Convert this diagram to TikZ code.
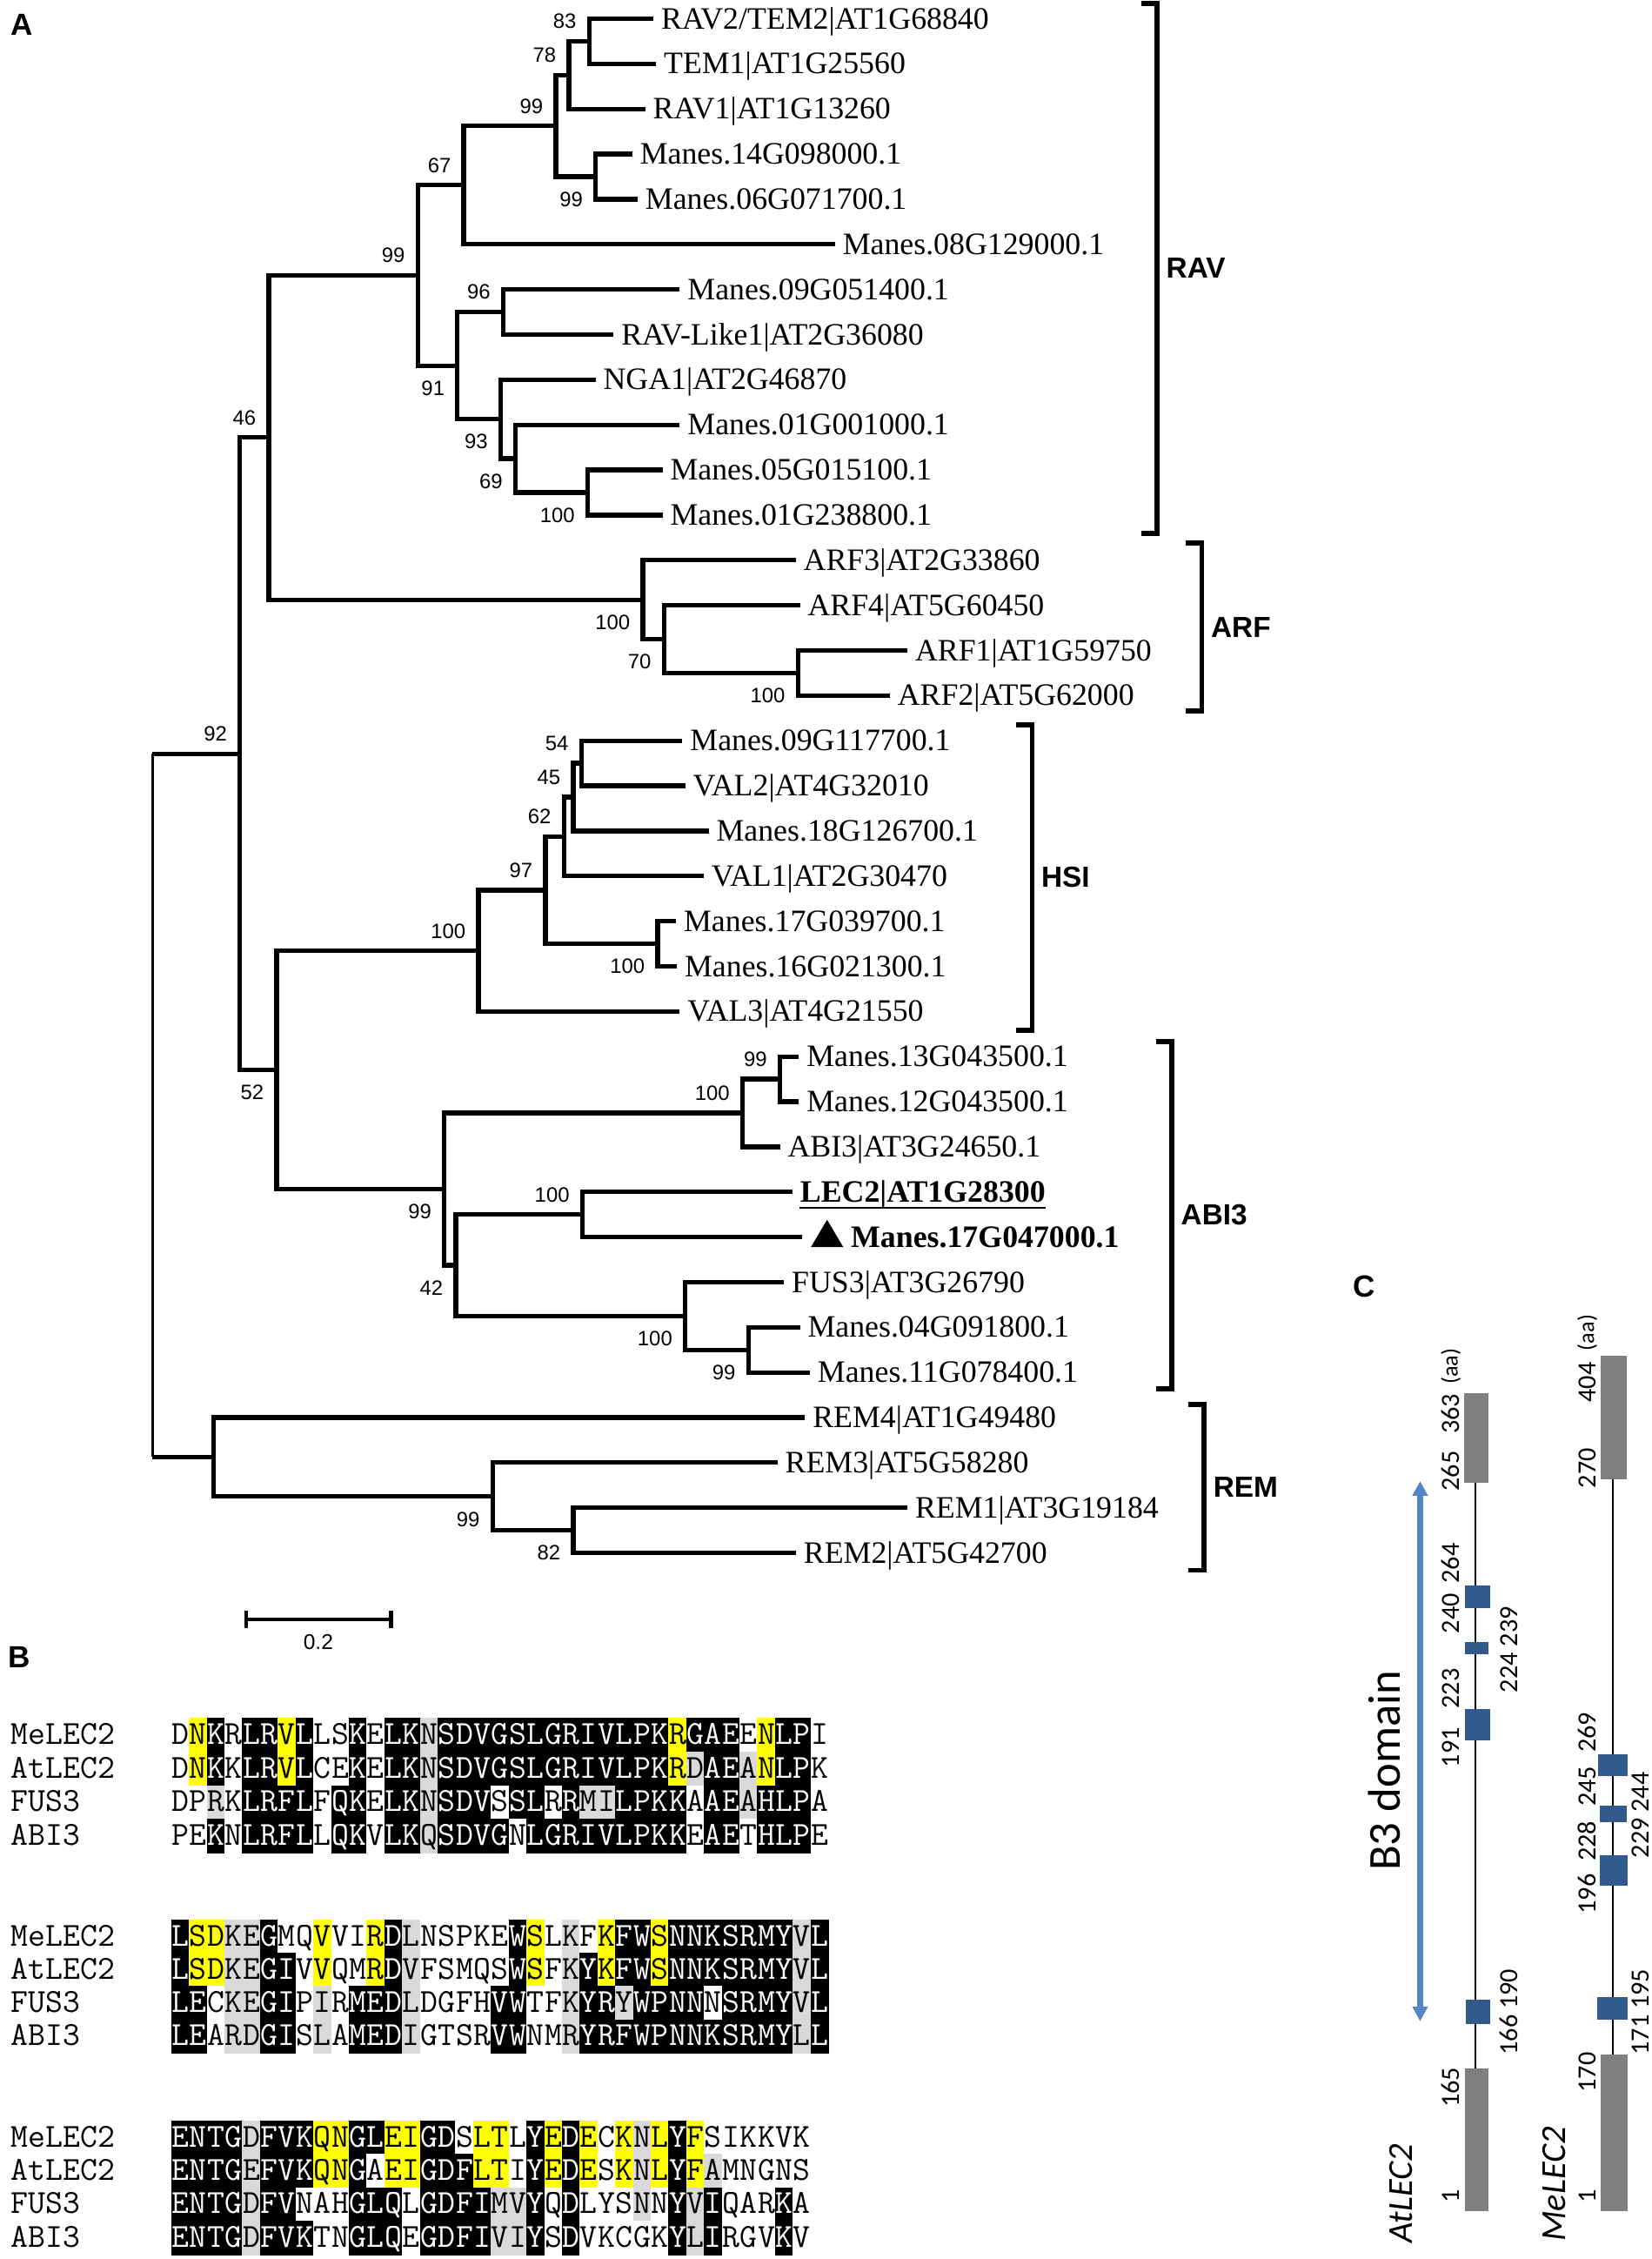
\documentclass[tikz,border=0pt]{standalone}
\usepackage{fontspec}
\setmainfont{Liberation Serif}
\newfontfamily\bsfont{Liberation Sans}
\newfontfamily\calfont{Carlito}
\usetikzlibrary{calc,arrows.meta}

\definecolor{ck}{RGB}{0,0,0}
\definecolor{tk}{RGB}{255,255,255}
\definecolor{cy}{RGB}{255,255,0}
\definecolor{ty}{RGB}{0,0,0}
\definecolor{cg}{RGB}{217,217,217}
\definecolor{tg}{RGB}{0,0,0}
\definecolor{cw}{RGB}{255,255,255}
\definecolor{tw}{RGB}{0,0,0}
\definecolor{boxgray}{RGB}{127,127,127}
\definecolor{b3blue}{RGB}{50,90,140}
\definecolor{arrowblue}{RGB}{84,134,196}

\newcommand\leafy[1]{13+31.32*(#1-1)}
\newcommand\alrow[3]{%
  \foreach \res/\sh [count=\i] in {#3}
    \node[cell, fill=c\sh, draw=c\sh, text=t\sh] (#1-\i) at ({119.1+12.33*(\i-0.5)},#2) {\res};}

\begin{document}
\begin{tikzpicture}[x=0.016565cm, y=-0.016565cm,
  br/.style={line width=1.5pt},
  brk/.style={line width=1.6pt},
  bsa/.style={anchor=south east, inner sep=0pt, xshift=-0.141cm, yshift=0.137cm, font=\bsfont\fontsize{6.8}{8}\selectfont},
  bsb/.style={anchor=north east, inner sep=0pt, xshift=-0.141cm, yshift=-0.169cm, font=\bsfont\fontsize{6.8}{8}\selectfont},
  leaf/.style={anchor=west, inner sep=0pt, xshift=0.083cm, text height=0.66em, text depth=0pt, font=\fontsize{10.2}{12}\selectfont},
  clade/.style={anchor=west, inner sep=0pt, xshift=0.1cm, font=\bsfont\bfseries\fontsize{9.5}{11}\selectfont},
  panel/.style={inner sep=0pt, font=\bsfont\bfseries\fontsize{10}{12}\selectfont},
  cell/.style={inner sep=0pt, minimum width=0.2043cm, minimum height=0.388cm, line width=0.2pt, text height=0.6em, text depth=0pt, font=\ttfamily\fontsize{11}{13}\selectfont},
  seqname/.style={anchor=west, inner sep=0pt, text height=0.6em, text depth=0pt, font=\ttfamily\fontsize{11}{13}\selectfont},
  cnum/.style={rotate=90, inner sep=0pt, font=\calfont\fontsize{8.6}{10}\selectfont},
  caa/.style={rotate=90, inner sep=0pt, font=\calfont\fontsize{7.5}{9}\selectfont},
  cname/.style={rotate=90, inner sep=0pt, font=\calfont\itshape\fontsize{11.5}{13}\selectfont}]
\useasboundingbox (0,0) rectangle (1147,1568);

% A: tree
\node[panel] (pa) at (15,17) {A};

\foreach \i/\x in {1/453.7,2/455.5,3/448,4/439,5/442.7,6/579.7,7/472,8/426,9/413.5,10/472,
  11/460,12/460,13/552.5,14/555.4,15/630,16/617.8,17/473.8,18/475.7,19/492,20/488.5,
  21/469.4,22/470,23/472,24/554.7,25/554.7,26/541.5,27/550.2,28/557,29/544.3,30/555.4,
  31/562.3,32/558.9,33/539.8,34/630,35/552.6}
  \coordinate (e\i) at (\x,{\leafy{\i}});

\foreach \i/\t in {1/{RAV2/TEM2|AT1G68840},2/{TEM1|AT1G25560},3/{RAV1|AT1G13260},
  4/{Manes.14G098000.1},5/{Manes.06G071700.1},6/{Manes.08G129000.1},7/{Manes.09G051400.1},
  8/{RAV-Like1|AT2G36080},9/{NGA1|AT2G46870},10/{Manes.01G001000.1},11/{Manes.05G015100.1},
  12/{Manes.01G238800.1},13/{ARF3|AT2G33860},14/{ARF4|AT5G60450},15/{ARF1|AT1G59750},
  16/{ARF2|AT5G62000},17/{Manes.09G117700.1},18/{VAL2|AT4G32010},19/{Manes.18G126700.1},
  20/{VAL1|AT2G30470},21/{Manes.17G039700.1},22/{Manes.16G021300.1},23/{VAL3|AT4G21550},
  24/{Manes.13G043500.1},25/{Manes.12G043500.1},26/{ABI3|AT3G24650.1},
  27/{\textbf{LEC2|AT1G28300}},29/{FUS3|AT3G26790},30/{Manes.04G091800.1},
  31/{Manes.11G078400.1},32/{REM4|AT1G49480},33/{REM3|AT5G58280},34/{REM1|AT3G19184},
  35/{REM2|AT5G42700}}
  \node[leaf] (t\i) at (e\i) {\t};
\draw[line width=0.6pt] ($(t27.south west)+(0,3.5)$) -- ($(t27.south east)+(0,3.5)$);
\fill ($(e28)+(6,7)$) -- ++(22.5,0) -- ++(-11.25,-19) -- cycle;
\node[leaf, xshift=0.47cm, font=\fontsize{10.2}{12}\selectfont\bfseries] (t28) at (e28) {Manes.17G047000.1};

\foreach \n/\x/\rw in {n83/409/1.5, n78/395/2.25, n99b/413.5/4.5, n99a/386/3.375,
  n67/322/4.6875, n96/349.4/7.5, n100r/408/11.5, n69/357.8/10.75, n93/347.6/9.875,
  n91/317.6/8.6875, n99c/290/6.6875, nA12/554/15.5, n70/461/14.75, nARF/446.4/13.875,
  n46/186.6/10.28125, n54/403.6/17.5, n45/398/18.25, n62/391.5/19.125, n100h/456.6/21.5,
  n97/378.7/20.3125, nHSI/332.2/21.65625, n99m/541.5/24.5, n100a/515.5/25.25,
  nLEC/404.3/27.5, n99f/519.6/30.5, nFUS/475.7/29.75, n42/316.5/28.625, nABI/308.5/26.9375,
  n52/192/24.296875, n92/166.5/17.2890625, n82/398/34.5, n99r/342/33.75, nREM/148.2/32.875,
  root/106/25.08203125}
  \coordinate (\n) at (\x,{\leafy{\rw}});

\foreach \p/\c in {n83/e1, n83/e2, n78/n83, n78/e3, n99a/n78, n99a/n99b, n99b/e4, n99b/e5,
  n67/n99a, n67/e6, n99c/n67, n99c/n91, n91/n96, n91/n93, n96/e7, n96/e8, n93/e9, n93/n69,
  n69/e10, n69/n100r, n100r/e11, n100r/e12, n46/n99c, n46/nARF, nARF/e13, nARF/n70,
  n70/e14, n70/nA12, nA12/e15, nA12/e16, n92/n46, n92/n52, n52/nHSI, n52/nABI,
  nHSI/n97, nHSI/e23, n97/n62, n97/n100h, n62/n45, n62/e20, n45/n54, n45/e19, n54/e17,
  n54/e18, n100h/e21, n100h/e22, nABI/n100a, nABI/n42, n100a/n99m, n100a/e26, n99m/e24,
  n99m/e25, n42/nLEC, n42/nFUS, nLEC/e27, nLEC/e28, nFUS/e29, nFUS/n99f, n99f/e30,
  n99f/e31, nREM/e32, nREM/n99r, n99r/e33, n99r/n82, n82/e34, n82/e35}
  \draw[br] (\p) |- (\c);
\draw[br] (root |- n92) -- (n92);
\draw[br] (root |- nREM) -- (nREM);
\draw[line width=0.6pt] (root |- n92) -- (root |- nREM);

\foreach \n/\v in {n83/83, n78/78, n99a/99, n67/67, n99c/99, n96/96, n46/46, n92/92,
  n54/54, n45/45, n62/62, n97/97, nHSI/100, n99m/99, n100a/100, nLEC/100}
  \node[bsa] (bs-\n) at (\n) {\v};
\foreach \n/\v in {n99b/99, n91/91, n93/93, n69/69, n100r/100, nARF/100, n70/70, nA12/100,
  n100h/100, n52/52, nABI/99, n42/42, nFUS/100, n99f/99, n99r/99, n82/82}
  \node[bsb] (bs-\n) at (\n) {\v};

% clades
\draw[brk] (792.3,2.3) -| (803.3,186.2) |- (792.3,370.2);
\node[clade] (rav) at (803.3,186.2) {RAV};
\draw[brk] (823.4,377) -| (834.4,435.2) |- (823.4,493.5);
\node[clade] (arf) at (834.4,435.2) {ARF};
\draw[brk] (705.6,503) -| (716.6,609) |- (705.6,715);
\node[clade] (hsi) at (716.6,609) {HSI};
\draw[brk] (802.6,723) -| (813.6,843.5) |- (802.6,964);
\node[clade] (abi) at (813.6,843.5) {ABI3};
\draw[brk] (825,975) -| (836,1032.5) |- (825,1090);
\node[clade] (rem) at (836,1032.5) {REM};

% scale
\coordinate (sb1) at (171,1124);
\coordinate (sb2) at (271.5,1124);
\draw[line width=1.3pt] (sb1) -- (sb2);
\draw[line width=1.3pt] ([yshift=0.1cm]sb1) -- ([yshift=-0.1cm]sb1);
\draw[line width=1.3pt] ([yshift=0.1cm]sb2) -- ([yshift=-0.1cm]sb2);
\node[font=\bsfont\fontsize{7}{8}\selectfont, inner sep=0pt] (sbl) at (221,1140) {0.2};

% B: alignment
\node[panel] (pb) at (13.5,1150) {B};
\foreach \j/\nm in {1/MeLEC2,2/AtLEC2,3/FUS3,4/ABI3} {
  \node[seqname] (na\j) at (7.4,{1204.3+23.4*(\j-1)}) {\nm};
  \node[seqname] (nb\j) at (7.4,{1344.2+23.1*(\j-1)}) {\nm};
  \node[seqname] (nc\j) at (7.4,{1484+23.1*(\j-1)}) {\nm};
}
\alrow{a1}{1204.3}{D/w,N/y,K/k,R/w,L/k,R/k,V/y,L/k,L/w,S/w,K/k,E/w,L/k,K/k,N/g,S/k,D/k,V/k,G/k,S/k,L/k,G/k,R/k,I/k,V/k,L/k,P/k,K/k,R/y,G/k,A/k,E/k,E/w,N/y,L/k,P/k,I/w}
\alrow{a2}{1227.7}{D/w,N/y,K/k,K/w,L/k,R/k,V/y,L/k,C/w,E/w,K/k,E/w,L/k,K/k,N/g,S/k,D/k,V/k,G/k,S/k,L/k,G/k,R/k,I/k,V/k,L/k,P/k,K/k,R/y,D/g,A/k,E/k,A/g,N/y,L/k,P/k,K/w}
\alrow{a3}{1251.1}{D/w,P/w,R/g,K/w,L/k,R/k,F/k,L/k,F/w,Q/k,K/k,E/w,L/k,K/k,N/g,S/k,D/k,V/k,S/w,S/k,L/k,R/w,R/k,M/g,I/g,L/k,P/k,K/k,K/k,A/w,A/k,E/k,A/g,H/k,L/k,P/k,A/w}
\alrow{a4}{1274.5}{P/w,E/w,K/k,N/w,L/k,R/k,F/k,L/k,L/w,Q/k,K/k,V/w,L/k,K/k,Q/g,S/k,D/k,V/k,G/k,N/w,L/k,G/k,R/k,I/k,V/k,L/k,P/k,K/k,K/k,E/w,A/k,E/k,T/w,H/k,L/k,P/k,E/w}

\alrow{b1}{1344.2}{L/k,S/y,D/y,K/g,E/g,G/k,M/w,Q/w,V/y,V/w,I/w,R/y,D/k,L/g,N/w,S/w,P/w,K/w,E/w,W/k,S/y,L/w,K/g,F/w,K/y,F/k,W/k,S/y,N/k,N/k,K/k,S/k,R/k,M/k,Y/k,V/g,L/k}
\alrow{b2}{1367.3}{L/k,S/y,D/y,K/g,E/g,G/k,I/k,V/w,V/y,Q/w,M/w,R/y,D/k,V/g,F/w,S/w,M/w,Q/w,S/w,W/k,S/y,F/w,K/g,Y/k,K/y,F/k,W/k,S/y,N/k,N/k,K/k,S/k,R/k,M/k,Y/k,V/g,L/k}
\alrow{b3}{1390.4}{L/k,E/k,C/w,K/g,E/g,G/k,I/k,P/w,I/g,R/w,M/k,E/k,D/k,L/g,D/w,G/w,F/w,H/w,V/k,W/k,T/w,F/w,K/g,Y/k,R/k,Y/g,W/k,P/k,N/k,N/k,N/w,S/k,R/k,M/k,Y/k,V/g,L/k}
\alrow{b4}{1413.5}{L/k,E/k,A/w,R/g,D/g,G/k,I/k,S/w,L/g,A/w,M/k,E/k,D/k,I/g,G/w,T/w,S/w,R/w,V/k,W/k,N/w,M/w,R/g,Y/k,R/k,F/k,W/k,P/k,N/k,N/k,K/k,S/k,R/k,M/k,Y/k,L/g,L/k}

\alrow{c1}{1484}{E/k,N/k,T/k,G/k,D/g,F/k,V/k,K/k,Q/y,N/y,G/k,L/k,E/y,I/y,G/k,D/k,S/w,L/y,T/y,L/w,Y/k,E/y,D/k,E/y,C/w,K/y,N/g,L/y,Y/k,F/y,S/w,I/w,K/w,K/w,V/w,K/w}
\alrow{c2}{1507.1}{E/k,N/k,T/k,G/k,E/g,F/k,V/k,K/k,Q/y,N/y,G/k,A/w,E/y,I/y,G/k,D/k,F/k,L/y,T/y,I/w,Y/k,E/y,D/k,E/y,S/w,K/y,N/g,L/y,Y/k,F/y,A/g,M/w,N/w,G/w,N/w,S/w}
\alrow{c3}{1530.2}{E/k,N/k,T/k,G/k,D/g,F/k,V/k,N/w,A/w,H/w,G/k,L/k,Q/k,L/w,G/k,D/k,F/k,I/k,M/g,V/g,Y/k,Q/w,D/k,L/w,Y/w,S/w,N/g,N/w,Y/k,V/g,I/k,Q/w,A/w,R/w,K/k,A/w}
\alrow{c4}{1553.3}{E/k,N/k,T/k,G/k,D/g,F/k,V/k,K/k,T/w,N/w,G/k,L/k,Q/k,E/w,G/k,D/k,F/k,I/k,V/g,I/g,Y/k,S/w,D/k,V/w,K/w,C/w,G/w,K/w,Y/k,L/g,I/k,R/w,G/w,V/w,K/k,V/w}

% C: domains
\node[panel] (pc) at (947,893) {C};
\node[rotate=90, inner sep=0pt, font=\calfont\fontsize{15}{18}\selectfont] (b3) at (961,1229) {B3 domain};
\coordinate (b3a) at (986,1028);
\coordinate (b3b) at (986,1403);
\draw[arrowblue, line width=2pt, {Triangle[width=0.17cm,length=0.17cm]}-{Triangle[width=0.17cm,length=0.17cm]}] (b3a) -- (b3b);

% AtLEC2
\draw[line width=0.6pt] (1024.6,1029) -- (1024.6,1435.5);
\fill[boxgray] (1016.7,967) rectangle (1033.6,1029);
\fill[b3blue] (1017.2,1100.7) rectangle (1034.4,1116);
\fill[b3blue] (1017.2,1139.7) rectangle (1033.6,1148.5);
\fill[b3blue] (1017.2,1186) rectangle (1034.4,1208);
\fill[b3blue] (1017.8,1388) rectangle (1034.4,1405);
\fill[boxgray] (1017.2,1435.5) rectangle (1033.6,1534.5);
\foreach \v/\y in {1/1524.6,165/1449,191/1213,223/1172,240/1120,264/1085,265/1021,363/981.4}
  \node[cnum] (at\v) at (1007.4,\y) {\v};
\node[caa] (ataa) at (1007.4,948.5) {(aa)};
\node[cnum] (atr1) at (1047.7,1396.6) {166 190};
\node[cnum] (atr2) at (1047.7,1145) {224 239};
\node[cname] (atl) at (973,1522.5) {AtLEC2};

% MeLEC2
\draw[line width=0.6pt] (1119.6,1027) -- (1119.6,1426);
\fill[boxgray] (1111.5,940.8) rectangle (1129.2,1027);
\fill[b3blue] (1109.5,1217.7) rectangle (1129.8,1233);
\fill[b3blue] (1110.5,1253) rectangle (1129.5,1265);
\fill[b3blue] (1110.5,1287.5) rectangle (1129.8,1309);
\fill[b3blue] (1109,1386) rectangle (1129.8,1402);
\fill[boxgray] (1111.5,1426) rectangle (1129.8,1534.5);
\foreach \v/\y in {1/1524.6,170/1438.5,196/1314.7,228/1278,245/1240,269/1202.5,270/1019,404/959.5}
  \node[cnum] (me\v) at (1102,\y) {\v};
\node[caa] (meaa) at (1102,925) {(aa)};
\node[cnum] (mer1) at (1139,1396.6) {171 195};
\node[cnum] (mer2) at (1139,1259.8) {229 244};
\node[cname] (mel) at (1079,1516) {MeLEC2};
\end{tikzpicture}
\end{document}
